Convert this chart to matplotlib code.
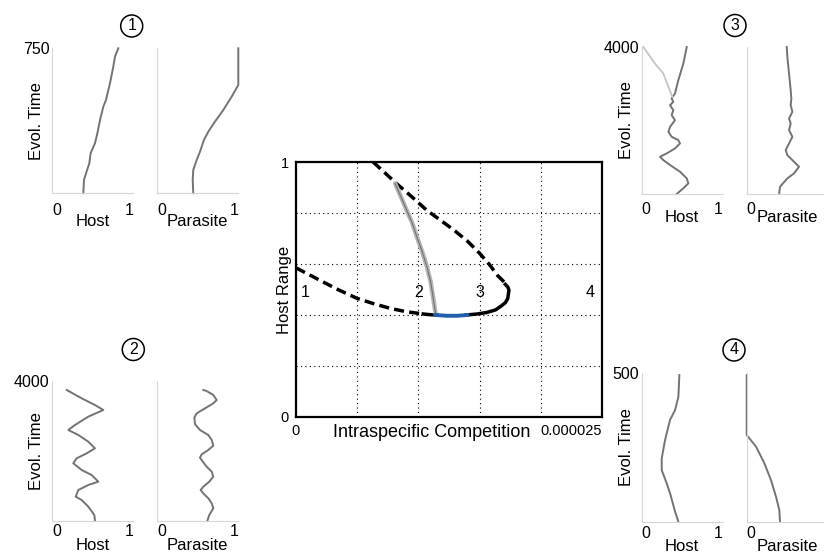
import matplotlib
matplotlib.use('Agg')
import matplotlib.pyplot as plt
from matplotlib.patches import Circle
from matplotlib.transforms import offset_copy

plt.rcParams['font.family'] = ['Liberation Sans', 'DejaVu Sans']

# ---- central plot data (x in units of 1e-6) ----
lower_dash_x = [0.0, 1.0, 2.2, 3.5, 5.0, 6.3, 7.7, 9.0, 10.4]
lower_dash_y = [0.585, 0.56, 0.53, 0.498, 0.465, 0.445, 0.426, 0.413, 0.404]
solid_a_x = [10.4, 11.0, 11.5]
solid_a_y = [0.404, 0.401, 0.400]
blue_x = [11.4, 12.3, 13.2, 14.0]
blue_y = [0.400, 0.397, 0.397, 0.400]
solid_b_x = [13.9, 14.8, 15.6, 16.3, 16.7, 17.1, 17.3, 17.4, 17.3, 17.1]
solid_b_y = [0.400, 0.404, 0.41, 0.42, 0.433, 0.448, 0.465, 0.498, 0.51, 0.52]
upper_dash_x = [17.0, 16.5, 15.8, 15.0, 14.0, 12.9, 11.8, 10.7, 9.5, 8.2, 6.3]
upper_dash_y = [0.53, 0.553, 0.598, 0.642, 0.69, 0.733, 0.772, 0.81, 0.862, 0.916, 1.0]
gray_x = [8.1, 8.6, 9.05, 9.5, 9.87, 10.3, 10.7, 11.0, 11.2, 11.4]
gray_y = [0.916, 0.86, 0.81, 0.76, 0.707, 0.65, 0.589, 0.53, 0.47, 0.406]
region_labels = ['1', '2', '3', '4']
region_x = [0.75, 10.0, 15.0, 24.0]
region_y = 0.49

# ---- small panels: trait value vs evolutionary time ----
p1_host_x = [0.383, 0.391, 0.416, 0.457, 0.473, 0.527, 0.556, 0.589, 0.630, 0.663, 0.712, 0.753, 0.774, 0.815]
p1_host_t = [0, 69, 103, 155, 207, 259, 310, 379, 448, 483, 569, 655, 707, 750]
p1_para_x = [0.444, 0.437, 0.444, 0.486, 0.527, 0.576, 0.630, 0.712, 0.815, 0.918, 1.0, 1.0]
p1_para_t = [0, 69, 121, 172, 215, 276, 319, 371, 431, 500, 560, 750]

p2_host_x = [0.527, 0.519, 0.444, 0.363, 0.289, 0.321, 0.444, 0.568, 0.486, 0.363, 0.259, 0.30,
             0.424, 0.527, 0.444, 0.321, 0.198, 0.28, 0.444, 0.63, 0.527, 0.363, 0.178]
p2_host_t = [0, 171, 410, 600, 695, 886, 1029, 1124, 1314, 1457, 1648, 1790,
             1933, 2076, 2267, 2457, 2600, 2743, 2981, 3171, 3314, 3505, 3743]
p2_para_x = [0.617, 0.642, 0.691, 0.672, 0.63, 0.568, 0.535, 0.568, 0.642, 0.691, 0.672, 0.609, 0.568,
             0.527, 0.548, 0.63, 0.691, 0.672, 0.63, 0.527, 0.466, 0.457, 0.486, 0.589, 0.691,
             0.733, 0.691, 0.609, 0.568]
p2_para_t = [0, 171, 362, 505, 648, 790, 886, 981, 1124, 1267, 1410, 1552, 1676,
             1810, 1905, 2029, 2152, 2314, 2457, 2600, 2762, 2952, 3076, 3219, 3362,
             3457, 3600, 3714, 3743]

p3_host_x = [0.432, 0.514, 0.576, 0.556, 0.473, 0.35, 0.267, 0.226, 0.309, 0.411, 0.473, 0.452,
             0.37, 0.33, 0.35, 0.411, 0.37, 0.39, 0.35, 0.39, 0.37, 0.383,
             0.411, 0.452, 0.514, 0.556]
p3_host_t = [0, 154, 290, 425, 606, 788, 923, 1014, 1104, 1240, 1376, 1466,
             1557, 1693, 1828, 2010, 2145, 2281, 2417, 2507, 2598, 2643,
             2734, 3096, 3549, 4000]
p3_branch_x = [0.383, 0.37, 0.33, 0.267, 0.164, 0.02]
p3_branch_t = [2643, 2688, 2915, 3277, 3549, 4000]
p3_para_x = [0.40, 0.412, 0.502, 0.584, 0.646, 0.584, 0.502, 0.481, 0.523, 0.564, 0.523, 0.543,
             0.523, 0.564, 0.543, 0.551, 0.543, 0.523, 0.502, 0.494]
p3_para_t = [0, 199, 425, 561, 742, 878, 1059, 1195, 1376, 1557, 1738, 1919,
             2055, 2236, 2417, 2598, 2824, 3277, 3729, 4000]

p4_host_x = [0.453, 0.412, 0.35, 0.309, 0.247, 0.247, 0.288, 0.35, 0.412, 0.453, 0.465]
p4_host_t = [0, 34, 96, 129, 174, 213, 275, 343, 376, 421, 494]
p4_para_x = [0.411, 0.403, 0.362, 0.30, 0.218, 0.115, 0.0, 0.0]
p4_para_t = [0, 39, 84, 140, 197, 253, 292, 494]

W, H = 824, 554
fig = plt.figure(figsize=(W / 100, H / 100), dpi=100)


def px_axes(left, top, width, height):
    return fig.add_axes([left / W, 1 - (top + height) / H, width / W, height / H])


# ---- central plot ----
ax = px_axes(296, 162, 306, 255)
sc = 1e-6
ax.plot([v * sc for v in lower_dash_x], lower_dash_y, color='black', lw=2.5,
        linestyle=(0, (2.9, 1.5)), dash_capstyle='butt')
ax.plot([v * sc for v in upper_dash_x], upper_dash_y, color='black', lw=2.5,
        linestyle=(0, (2.9, 1.5)), dash_capstyle='butt', clip_on=False)
ax.plot([v * sc for v in solid_a_x], solid_a_y, color='black', lw=2.5)
ax.plot([v * sc for v in solid_b_x], solid_b_y, color='black', lw=2.5)
ax.plot([v * sc for v in gray_x], gray_y, color='#b4b4b4', lw=3.2, solid_capstyle='round')
ax.plot([v * sc for v in gray_x], gray_y, color='#6a6a6a', lw=0.7)
ax.plot([v * sc for v in blue_x], blue_y, color='#2160a8', lw=2.8)
for lab, xv in zip(region_labels, region_x):
    ax.text(xv * sc, region_y, lab, fontsize=11.5, ha='center', va='center')

ax.set_xlim(0, 25 * sc)
ax.set_ylim(0, 1)
ax.set_xticks([i * 5 * sc for i in range(6)])
ax.set_yticks([0.2 * i for i in range(6)])
ax.set_xticklabels(['0', '', '', '', '', '0.000025'], fontsize=10.5)
ax.set_yticklabels(['0', '', '', '', '', '1'], fontsize=10.5)
ax.get_xticklabels()[-1].set_ha('right')
ax.tick_params(length=0, pad=5)
ax.grid(True, color='black', linestyle=(0, (1, 3)), lw=0.8)
for s in ax.spines.values():
    s.set_linewidth(1.6)
ax.set_ylabel('Host Range', fontsize=12)
ax.yaxis.set_label_coords(-0.012, 0.5)
ax.set_xlabel('Intraspecific Competition', fontsize=13)
ax.xaxis.set_label_coords(0.444, -0.027)


def small_panel(left, top, height, tmax, hx, ht, px_, pt, para_ticks, tick_dy, lab_dy):
    ah = px_axes(left, top, 81, height)
    ap = px_axes(left + 105, top, 81, height)
    for a, ticks, name in ((ah, [0, 1], 'Host'), (ap, para_ticks, 'Parasite')):
        a.set_xlim(0, 1)
        a.set_ylim(0, tmax)
        for side in ('top', 'right'):
            a.spines[side].set_visible(False)
        for side in ('left', 'bottom'):
            a.spines[side].set_color('#d6d6d6')
            a.spines[side].set_linewidth(0.8)
        a.set_xticks([])
        a.set_yticks([])
        tr = offset_copy(a.transAxes, fig=fig, x=0, y=-tick_dy, units='dots')
        for t in ticks:
            a.text(t, 0, str(t), transform=tr, ha='left' if t == 0 else 'right',
                   va='center', fontsize=11.5)
        trl = offset_copy(a.transAxes, fig=fig, x=0, y=-lab_dy, units='dots')
        a.text(0.5, 0, name, transform=trl, ha='center', va='center', fontsize=12)
    ah.set_yticks([tmax])
    ah.set_yticklabels([str(tmax)], fontsize=11.5)
    ah.tick_params(axis='y', length=0, pad=2)
    ah.plot(hx, ht, color='#737373', lw=1.4, clip_on=False)
    ap.plot(px_, pt, color='#737373', lw=1.4, clip_on=False)
    ah.text(-0.19, 0.5, 'Evol. Time', transform=ah.transAxes, rotation=90,
            ha='center', va='center', fontsize=12)
    return ah, ap


def circle_label(cx, cy, txt):
    c = Circle((cx / 100, (H - cy) / 100), 0.11, transform=fig.dpi_scale_trans,
               fill=False, ec='black', lw=1.1)
    fig.add_artist(c)
    fig.text(cx / W, 1 - cy / H, txt, ha='center', va='center', fontsize=11.5)


small_panel(52.3, 48.3, 145, 750, p1_host_x, p1_host_t, p1_para_x, p1_para_t, [0, 1], 17, 28.5)
small_panel(52.3, 381, 140, 4000, p2_host_x, p2_host_t, p2_para_x, p2_para_t, [0, 1], 11, 24)
h3, p3 = small_panel(641.7, 47, 147, 4000, p3_host_x, p3_host_t, p3_para_x, p3_para_t, [0], 15, 23)
h3.plot(p3_branch_x, p3_branch_t, color='#c4c4c4', lw=1.3, clip_on=False)
small_panel(641.7, 373.3, 148.4, 500, p4_host_x, p4_host_t, p4_para_x, p4_para_t, [0], 11.5, 24.5)

circle_label(131.7, 26, '1')
circle_label(133.3, 349.5, '2')
circle_label(735, 25.5, '3')
circle_label(734, 350, '4')

fig.savefig('out.png', dpi=100)
